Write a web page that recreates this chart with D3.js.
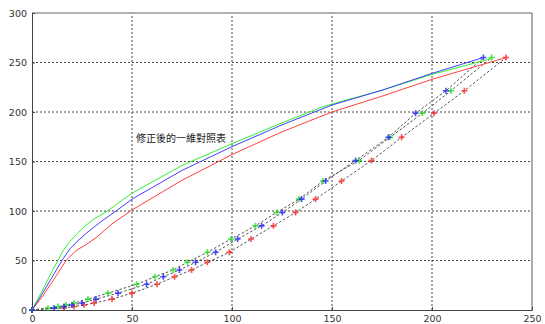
<!DOCTYPE html>
<html>
<head>
<meta charset="utf-8">
<script src="https://cdn.jsdelivr.net/npm/d3@7"></script>
<style>
  body { margin: 0; background: #fff; }
  text { font-family: "DejaVu Sans", Arial, sans-serif; }
</style>
</head>
<body>
<div id="chart"></div>
<script>
// solid curves
const greenCurveX = [0, 5, 10, 15, 18, 22, 26, 31, 37, 50, 75, 100, 125, 145, 150, 175, 200, 229.8];
const greenCurveY = [0, 19, 39, 58, 67, 76, 84, 92, 99, 118, 146, 168, 189, 205, 208, 222, 238, 254];
const blueCurveX = [0, 5, 10, 15, 19, 23, 28, 35, 42, 50, 75, 100, 125, 150, 175, 200, 225.7];
const blueCurveY = [0, 16, 33, 50, 62, 70, 79, 90, 100, 112, 141, 165, 187, 207, 222, 239, 255];
const redCurveX = [0, 5, 10, 17, 22, 27, 32, 40, 50, 75, 100, 125, 150, 175, 200, 237];
const redCurveY = [0, 13, 28, 50, 60, 66, 73, 87, 101, 131, 157, 180, 200, 216, 233, 255];

// marker series (common output levels)
const levels = [0, 2, 3.5, 5, 7, 11, 17, 26, 33.6, 40.4, 48.2, 58.3, 71.7, 85, 98.5, 112, 130.3, 151, 174.4, 198.7, 221.5, 255];
const greenPtsX = [0, 8, 13, 17, 21, 28, 38, 52.3, 61.5, 70.5, 77.7, 87.7, 99.5, 111.7, 122.3, 133.5, 145.5, 163.5, 179, 195.2, 209.5, 229.8];
const bluePtsX = [0, 11, 16, 20, 25, 32, 43, 57.3, 65.7, 73.7, 81.8, 91.8, 102.8, 114.8, 125.2, 134.8, 146.8, 161.8, 178.2, 191.8, 207, 225.7];
const redPtsX = [0, 16, 21, 26, 31, 40, 50, 62.5, 71.3, 79.8, 87.7, 98.7, 109.5, 120.7, 131.8, 141.8, 154.8, 169.8, 184.8, 201, 216.2, 237];

const xTicks = [0, 50, 100, 150, 200, 250];
const yTicks = [0, 50, 100, 150, 200, 250, 300];
const note = "修正後的一維對照表";

const w = 545, h = 324;
const margin = {left: 32, top: 13, right: 13, bottom: 14};

const svg = d3.select("#chart").append("svg")
  .attr("width", w).attr("height", h);

const x = d3.scaleLinear().domain([0, 250]).range([margin.left, w - margin.right]);
const y = d3.scaleLinear().domain([0, 300]).range([h - margin.bottom, margin.top]);

// grid
svg.append("g").selectAll("line").data(xTicks.slice(1, -1)).enter().append("line")
  .attr("x1", d => x(d)).attr("x2", d => x(d))
  .attr("y1", y(0)).attr("y2", y(300))
  .attr("stroke", "#444").attr("stroke-width", 1).attr("stroke-dasharray", "2,2");
svg.append("g").selectAll("line").data(yTicks.slice(1, -1)).enter().append("line")
  .attr("y1", d => y(d)).attr("y2", d => y(d))
  .attr("x1", x(0)).attr("x2", x(250))
  .attr("stroke", "#444").attr("stroke-width", 1).attr("stroke-dasharray", "2,2");

// box
svg.append("line").attr("x1", x(0)).attr("x2", x(250)).attr("y1", y(300)).attr("y2", y(300))
  .attr("stroke", "#999").attr("stroke-width", 1.5);
svg.append("line").attr("x1", x(250)).attr("x2", x(250)).attr("y1", y(0)).attr("y2", y(300))
  .attr("stroke", "#777").attr("stroke-width", 1.2);

const xAxis = svg.append("g").attr("transform", "translate(0," + y(0) + ")")
  .call(d3.axisBottom(x).tickValues(xTicks).tickSize(-3).tickPadding(5).tickFormat(d3.format("d")));
const yAxis = svg.append("g").attr("transform", "translate(" + x(0) + ",0)")
  .call(d3.axisLeft(y).tickValues(yTicks).tickSize(-3).tickPadding(5).tickFormat(d3.format("d")));
[xAxis, yAxis].forEach(a => {
  a.select(".domain").attr("stroke", "#444");
  a.selectAll(".tick line").attr("stroke", "#444");
  a.selectAll("text").attr("fill", "#333").style("font-size", "9.5px");
});

const line = d3.line().x(d => x(d[0])).y(d => y(d[1]));

// dashed marker series
const series = [
  {xs: redPtsX, color: "#ff2020"},
  {xs: greenPtsX, color: "#20e020"},
  {xs: bluePtsX, color: "#2020ff"}
];
series.forEach(s => {
  svg.append("path")
    .datum(s.xs.map((v, i) => [v, levels[i]]))
    .attr("d", line)
    .attr("fill", "none").attr("stroke", "#555").attr("stroke-width", 1)
    .attr("stroke-dasharray", "2.5,2");
});
series.forEach(s => {
  const pts = s.xs.map((v, i) => [v, levels[i]]);
  svg.append("g").selectAll("path").data(pts).enter().append("path")
    .attr("d", d => {
      const px = x(d[0]), py = y(d[1]);
      return "M" + (px - 3) + "," + py + "H" + (px + 3) + "M" + px + "," + (py - 3) + "V" + (py + 3);
    })
    .attr("stroke", s.color).attr("stroke-width", 1.6).attr("opacity", 0.8);
});

// solid curves
const curves = [
  {xs: redCurveX, ys: redCurveY, color: "#ff4040"},
  {xs: greenCurveX, ys: greenCurveY, color: "#30f030"},
  {xs: blueCurveX, ys: blueCurveY, color: "#4040ff"}
];
curves.forEach(c => {
  svg.append("path")
    .datum(c.xs.map((v, i) => [v, c.ys[i]]))
    .attr("d", line)
    .attr("fill", "none").attr("stroke", c.color).attr("stroke-width", 1);
});

svg.append("text")
  .attr("x", x(52)).attr("y", y(170))
  .style("font-family", "'Noto Sans CJK TC', sans-serif")
  .style("font-size", "10px")
  .attr("fill", "#222")
  .text(note);
</script>
</body>
</html>
